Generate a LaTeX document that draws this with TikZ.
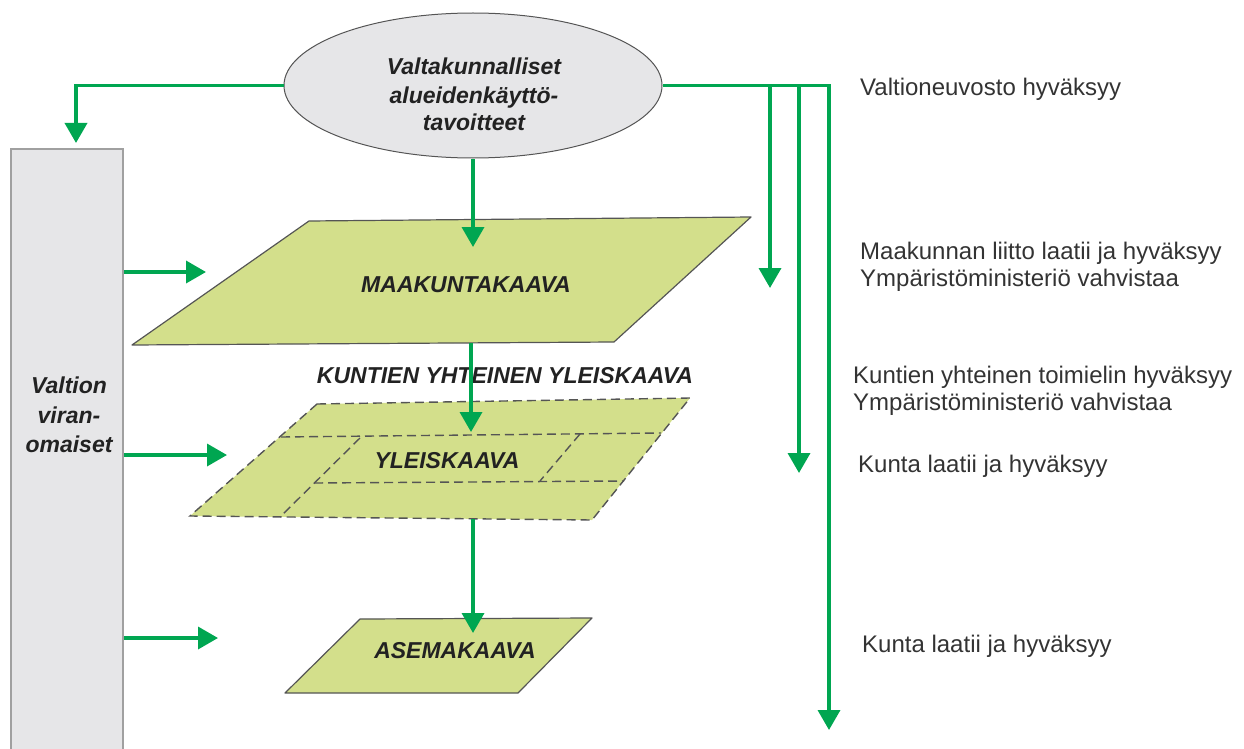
\documentclass[tikz,border=0pt]{standalone}
\usepackage{fontspec}
\setmainfont{Liberation Sans}
\usetikzlibrary{arrows.meta,shapes.geometric}
\definecolor{grn}{HTML}{00A651}
\definecolor{plan}{HTML}{D3DF8B}
\definecolor{lgray}{HTML}{E6E6E8}
\definecolor{edge}{HTML}{555555}
\definecolor{rectedge}{HTML}{A0A0A0}
\definecolor{ink}{HTML}{222222}
\definecolor{ink2}{HTML}{333333}
\begin{document}
\begin{tikzpicture}[x=1pt,y=-1pt,
  flow/.style={draw=grn, line width=3.6pt, -{Triangle[length=20pt,width=22pt]}},
  planbox/.style={fill=plan, draw=edge, line width=1.2pt, line join=round},
  dashbox/.style={draw=edge, line width=1.4pt, dash pattern=on 9pt off 5pt},
  title/.style={font=\fontsize{23}{28}\selectfont\bfseries\itshape, text=ink, inner sep=0pt, anchor=base},
  note/.style={font=\fontsize{24}{27}\selectfont, text=ink2, inner sep=0pt, anchor=base west}]
\useasboundingbox (0,0) rectangle (1244,749);

% ellipse
\node[ellipse, draw=edge, fill=lgray, line width=1pt, minimum width=378pt, minimum height=145pt, inner sep=0pt] (ell) at (473,85.5) {};
\node[title] (e1) at (474,75) {Valtakunnalliset};
\node[title] (e2) at (474,103) {alueidenkäyttö-};
\node[title] (e3) at (474,131) {tavoitteet};

% grey column
\fill[lgray] (11,149) rectangle (123,749);
\draw[draw=rectedge, line width=1.5pt] (11,749) -- (11,149) -- (123,149) -- (123,749);
\node[title] (v1) at (69,393) {Valtion};
\node[title] (v2) at (69,423) {viran-};
\node[title] (v3) at (69,452) {omaiset};

% maakuntakaava
\path[planbox] (309,221) -- (751,217) -- (614,342) -- (132,345) -- cycle;
\node[title] (maa) at (466,292) {MAAKUNTAKAAVA};

% yleiskaava (dashed)
\fill[plan] (317,404) -- (690,398) -- (592,520) -- (190,516) -- cycle;
\draw[dashbox] (317,404) -- (690,398) -- (592,520) -- (190,516) -- cycle;
\draw[dashbox] (281,437) -- (661,433);
\draw[dashbox] (314,483) -- (624,481);
\draw[dashbox] (360,438) -- (280,517);
\draw[dashbox] (580,434) -- (540,481);
\node[title] (kyy) at (505,383) {KUNTIEN YHTEINEN YLEISKAAVA};
\node[title] (yk) at (447,468) {YLEISKAAVA};

% asemakaava
\path[planbox] (360,619) -- (592,618) -- (518,693) -- (285,693) -- cycle;
\node[title] (ak) at (455,658) {ASEMAKAAVA};

% coordinates for connector ends
\coordinate (ltip) at (76,143);
\coordinate (j1) at (770,85.5);
\coordinate (r1) at (770,288);
\coordinate (j2) at (799,85.5);
\coordinate (r2) at (799,473);
\coordinate (r3) at (829,730);
\coordinate (t1) at (473,247);
\coordinate (m0) at (471,343);
\coordinate (t2) at (471,432);
\coordinate (y0) at (473,519);
\coordinate (t3) at (473,633);
\coordinate (g1) at (124,272);
\coordinate (h1) at (206,272);
\coordinate (g2) at (124,455);
\coordinate (h2) at (227,455);
\coordinate (g3) at (124,638);
\coordinate (h3) at (218,638);

% connectors
\draw[flow] (ell.west) -| (ltip);
\draw[flow] (ell.east) -| (r3);
\draw[flow] (j1) -- (r1);
\draw[flow] (j2) -- (r2);
\draw[flow] (ell.south) -- (t1);
\draw[flow] (m0) -- (t2);
\draw[flow] (y0) -- (t3);
\draw[flow] (g1) -- (h1);
\draw[flow] (g2) -- (h2);
\draw[flow] (g3) -- (h3);

% notes
\node[note] (n1) at (860,96) {Valtioneuvosto hyväksyy};
\node[note] (n2) at (860,259) {Maakunnan liitto laatii ja hyväksyy};
\node[note] (n3) at (860,286) {Ympäristöministeriö vahvistaa};
\node[note] (n4) at (853,383) {Kuntien yhteinen toimielin hyväksyy};
\node[note] (n5) at (853,410) {Ympäristöministeriö vahvistaa};
\node[note] (n6) at (858,472) {Kunta laatii ja hyväksyy};
\node[note] (n7) at (862,652) {Kunta laatii ja hyväksyy};
\end{tikzpicture}
\end{document}
